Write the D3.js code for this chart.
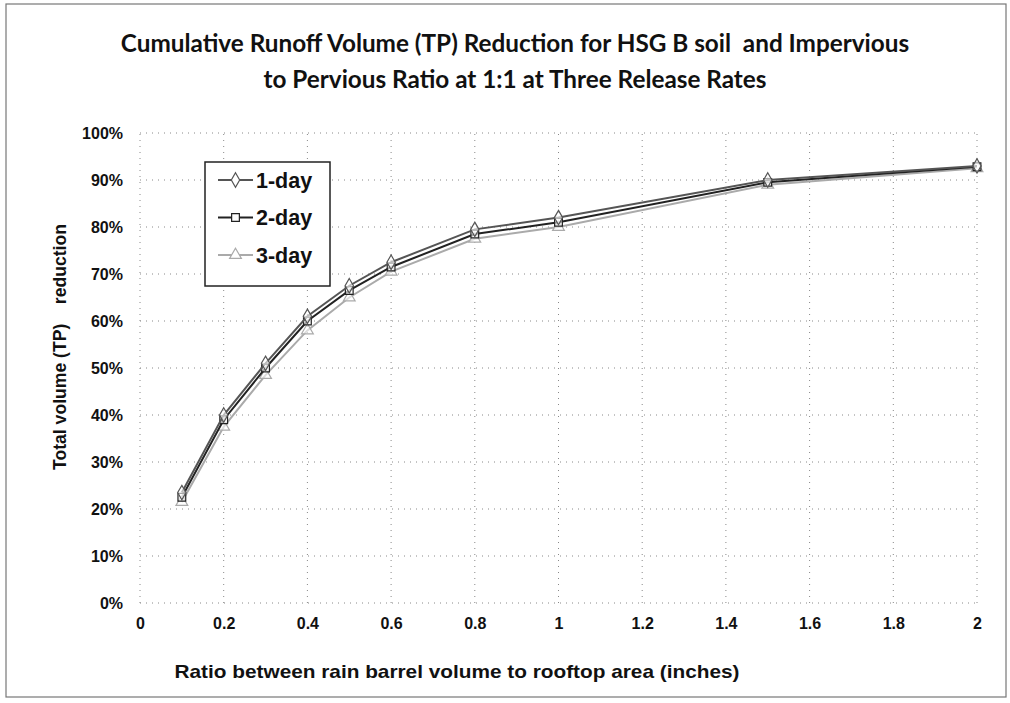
<!DOCTYPE html>
<html><head><meta charset="utf-8">
<script src="https://cdn.jsdelivr.net/npm/d3@7"></script>
<style>body{margin:0;background:#fff}svg{display:block}</style>
</head><body>
<svg id="c" width="1010" height="703"></svg>
<script>
const ratios = [0.1, 0.2, 0.3, 0.4, 0.5, 0.6, 0.8, 1.0, 1.5, 2.0];
const oneDay = [0.235, 0.40, 0.51, 0.61, 0.675, 0.725, 0.795, 0.82, 0.90, 0.93];
const twoDay = [0.225, 0.39, 0.50, 0.60, 0.665, 0.715, 0.785, 0.81, 0.895, 0.928];
const threeDay = [0.215, 0.375, 0.485, 0.58, 0.65, 0.705, 0.775, 0.80, 0.89, 0.925];
const seriesNames = ["1-day", "2-day", "3-day"];
const xTicks = [0, 0.2, 0.4, 0.6, 0.8, 1, 1.2, 1.4, 1.6, 1.8, 2];
const yTicks = [0, 0.1, 0.2, 0.3, 0.4, 0.5, 0.6, 0.7, 0.8, 0.9, 1.0];
const titleLines = ["Cumulative Runoff Volume (TP) Reduction for HSG B soil  and Impervious", "to Pervious Ratio at 1:1 at Three Release Rates"];

const svg = d3.select("#c");
const x = d3.scaleLinear().domain([0, 2]).range([140, 977]);
const y = d3.scaleLinear().domain([0, 1]).range([603, 133]);

// outer frame
svg.append("rect").attr("x", 6).attr("y", 4).attr("width", 1000).attr("height", 693)
  .attr("fill", "none").attr("stroke", "#777").attr("stroke-width", 1.2);

// title
svg.append("g").selectAll("text").data(titleLines).join("text")
  .attr("x", 515).attr("y", (d, i) => 52 + i * 36)
  .attr("text-anchor", "middle").attr("font-family", "Lato, 'Open Sans', sans-serif")
  .attr("font-weight", "bold").attr("font-size", 24.3).attr("fill", "#111")
  .style("white-space", "pre").text(d => d);

// grid
const grid = svg.append("g").attr("stroke", "#888").attr("stroke-width", 1).attr("stroke-dasharray", "1,5");
grid.selectAll("line.h").data(yTicks).join("line").attr("class", "h")
  .attr("x1", x(0)).attr("x2", x(2)).attr("y1", d => y(d)).attr("y2", d => y(d));
grid.selectAll("line.v").data(xTicks).join("line").attr("class", "v")
  .attr("y1", y(0)).attr("y2", y(1)).attr("x1", d => x(d)).attr("x2", d => x(d));

// axes
const fmtX = d => (d === 0 || d === 1 || d === 2) ? String(d) : d.toFixed(1);
const xAxis = svg.append("g").attr("transform", `translate(0,${y(0)})`)
  .call(d3.axisBottom(x).tickValues(xTicks).tickFormat(fmtX).tickSize(0).tickPadding(15));
const yAxis = svg.append("g").attr("transform", `translate(${x(0)},0)`)
  .call(d3.axisLeft(y).tickValues(yTicks).tickFormat(d3.format(".0%")).tickSize(0).tickPadding(17));
[xAxis, yAxis].forEach(a => {
  a.select(".domain").remove();
  a.selectAll("text").attr("font-family", "'Liberation Sans', Arial, sans-serif")
    .attr("font-weight", "bold").attr("font-size", 16).attr("fill", "#111");
});

// axis titles
svg.append("text").attr("x", 457).attr("y", 678).attr("text-anchor", "middle")
  .attr("font-family", "'Liberation Sans', Arial, sans-serif").attr("font-weight", "bold")
  .attr("font-size", 19).attr("fill", "#111")
  .attr("textLength", 565).attr("lengthAdjust", "spacingAndGlyphs")
  .text("Ratio between rain barrel volume to rooftop area (inches)");
svg.append("text").attr("transform", "translate(66,347) rotate(-90)").attr("text-anchor", "middle")
  .attr("font-family", "'Liberation Sans', Arial, sans-serif").attr("font-weight", "bold")
  .attr("font-size", 17.6).attr("fill", "#111")
  .style("white-space", "pre")
  .text("Total volume (TP)    reduction");

// series
const series = [
  {name: seriesNames[0], vals: oneDay, color: "#555", sym: d3.symbolDiamond},
  {name: seriesNames[1], vals: twoDay, color: "#222", sym: d3.symbolSquare},
  {name: seriesNames[2], vals: threeDay, color: "#aaa", sym: d3.symbolTriangle}
];
const line = d3.line().x(d => x(d[0])).y(d => y(d[1]));
const sg = svg.append("g");
series.slice().reverse().forEach(s => {
  const pts = ratios.map((r, i) => [r, s.vals[i]]);
  sg.append("path").datum(pts).attr("d", line).attr("fill", "none")
    .attr("stroke", s.color).attr("stroke-width", 2);
  sg.append("g").selectAll("path").data(pts).join("path")
    .attr("d", d3.symbol().type(s.sym).size(60))
    .attr("transform", d => `translate(${x(d[0])},${y(d[1])})`)
    .attr("fill", "#fff").attr("fill-opacity", 0.6).attr("stroke", s.color).attr("stroke-width", 1.2);
});

// legend
const lg = svg.append("g");
lg.append("rect").attr("x", 205).attr("y", 162).attr("width", 125).attr("height", 124)
  .attr("fill", "#fff").attr("stroke", "#222").attr("stroke-width", 1.5);
series.forEach((s, i) => {
  const cy = 180 + i * 37.5;
  lg.append("line").attr("x1", 218).attr("x2", 253).attr("y1", cy).attr("y2", cy)
    .attr("stroke", s.color).attr("stroke-width", 2);
  lg.append("path").attr("d", d3.symbol().type(s.sym).size(60)())
    .attr("transform", `translate(235.5,${cy})`).attr("fill", "#fff")
    .attr("stroke", s.color).attr("stroke-width", 1.2);
  lg.append("text").attr("x", 256).attr("y", cy + 7.5).attr("font-family", "'Liberation Sans', Arial, sans-serif")
    .attr("font-weight", "bold").attr("font-size", 21.5).attr("fill", "#111").text(s.name);
});
</script>
</body></html>
